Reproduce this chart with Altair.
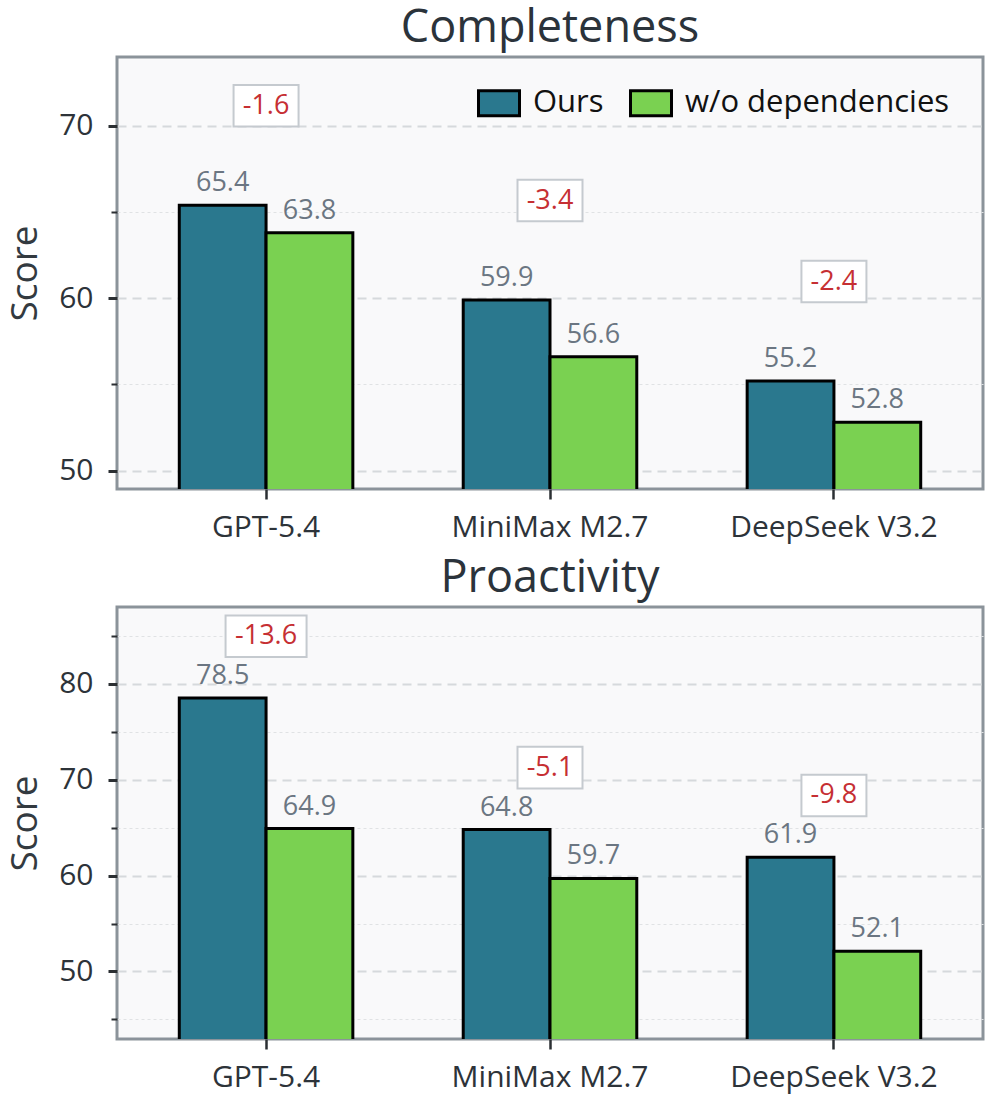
import altair as alt
import pandas as pd

models = ["GPT-5.4", "MiniMax M2.7", "DeepSeek V3.2"]
series = ["Ours", "w/o dependencies"]

completeness_ours = [65.4, 59.9, 55.2]
completeness_wo = [63.8, 56.6, 52.8]
completeness_delta = [-1.6, -3.4, -2.4]

proactivity_ours = [78.5, 64.8, 61.9]
proactivity_wo = [64.9, 59.7, 52.1]
proactivity_delta = [-13.6, -5.1, -9.8]

major_ticks = [40, 50, 60, 70, 80, 90]
minor_ticks = [45, 55, 65, 75, 85]

colors = ["#2a788e", "#7ad151"]
FONT = "Open Sans"
W, H = 866, 432


def panel(title, ours, wo, delta, domain, box_offset, show_legend):
    bars_df = pd.DataFrame({
        "model": models * 2,
        "series": [series[0]] * len(models) + [series[1]] * len(models),
        "score": list(ours) + list(wo),
    })
    delta_df = pd.DataFrame({"model": models, "ours": ours, "delta": delta})

    x_axis = alt.Axis(
        labelAngle=0, labelFontSize=30, labelFont=FONT, labelColor="#2d3339",
        labelLimit=0, tickSize=10, tickWidth=2.5, tickColor="#2b2f33", domain=False,
        labelPadding=13, grid=False,
    )
    x = alt.X("model:N", sort=models, title=None,
              scale=alt.Scale(paddingInner=0, paddingOuter=0.025), axis=x_axis)

    major_axis = alt.Axis(
        orient="left", values=major_ticks,
        labelFontSize=30, labelFont=FONT, labelColor="#2d3339", labelPadding=15,
        tickColor="#2b2f33", tickSize=9, tickWidth=3,
        grid=True, gridDash=[9, 6], gridWidth=2, gridColor="#d6d9dc",
        domain=False,
        titleFontSize=37, titleFont=FONT, titleFontWeight="normal",
        titleColor="#333a40", titlePadding=14,
    )
    minor_axis = alt.Axis(
        orient="left", values=minor_ticks, labels=False, title=None,
        tickColor="#2b2f33", tickSize=6, tickWidth=2,
        grid=True, gridDash=[3, 3], gridWidth=1, gridColor="#e0e2e4",
        domain=False,
    )
    y_scale = alt.Scale(domain=domain, zero=False, nice=False)

    xoff = alt.XOffset("series:N", sort=series,
                       scale=alt.Scale(paddingOuter=0.636, paddingInner=0))

    if show_legend:
        legend = alt.Legend(
            title=None, orient="none", legendX=360, legendY=24,
            direction="horizontal",
            symbolType="M-1,-0.61H1V0.61H-1Z", symbolSize=1681,
            symbolStrokeColor="black", symbolStrokeWidth=3,
            labelFontSize=31, labelFont=FONT, labelColor="#111111", labelLimit=0,
            labelOffset=12, columnPadding=20, padding=0,
        )
    else:
        legend = None

    bars = alt.Chart(bars_df).mark_bar(stroke="black", strokeWidth=3, clip=True).encode(
        x=x, xOffset=xoff,
        y=alt.Y("score:Q", scale=y_scale, title="Score", axis=major_axis),
        color=alt.Color("series:N", sort=series,
                        scale=alt.Scale(domain=series, range=colors), legend=legend),
    )
    values = alt.Chart(bars_df).mark_text(
        fontSize=27, font=FONT, color="#6b7682", dy=-14, baseline="alphabetic"
    ).encode(
        x=x, xOffset=xoff,
        y=alt.Y("score:Q", scale=y_scale, title=None, axis=minor_axis),
        text=alt.Text("score:Q", format=".1f"),
    )

    base = alt.Chart(delta_df).transform_calculate(
        ypos=f"datum.ours + {box_offset}",
        label="(datum.delta < 0 ? '-' : '+') + format(abs(datum.delta), '.1f')",
    ).transform_calculate(
        bw="65 + 16 * (length(datum.label) - 4)",
    ).transform_calculate(
        shp="'M-1,-' + format(41.6 / datum.bw, '.4f') + 'H1V' + format(41.6 / datum.bw, '.4f') + 'H-1Z'",
        sz="datum.bw * datum.bw",
    )
    boxes = base.mark_point(
        filled=True, fill="white", stroke="#c5cacf", strokeWidth=2, opacity=1
    ).encode(
        x=x, y=alt.Y("ypos:Q", scale=y_scale, title=None, axis=None),
        shape=alt.Shape("shp:N", scale=None),
        size=alt.Size("sz:Q", scale=None),
    )
    deltas = base.mark_text(
        fontSize=27, font=FONT, color="#c62f33", baseline="middle"
    ).encode(
        x=x, y=alt.Y("ypos:Q", scale=y_scale, title=None, axis=None),
        text="label:N",
    )

    return alt.layer(bars, values, boxes, deltas).resolve_axis(y="independent").properties(
        width=W, height=H,
        title=alt.TitleParams(title, fontSize=45, font=FONT, fontWeight="normal",
                              color="#2b333b", anchor="middle", offset=6),
    )


top = panel("Completeness", completeness_ours, completeness_wo, completeness_delta,
            [48.93, 74.0], 5.77, True)
bottom = panel("Proactivity", proactivity_ours, proactivity_wo, proactivity_delta,
               [42.96, 88.0], 6.45, False)

chart = alt.vconcat(top, bottom, spacing=10).resolve_scale(
    x="independent", y="independent", color="shared"
).resolve_legend(color="independent").configure_view(
    stroke="#8b939a", strokeWidth=3, fill="#f9f9fa"
).properties(
    padding={"left": 5, "top": 4, "right": 10, "bottom": 1},
    background="white",
)

chart.save("out.html", embed_options={"renderer": "svg", "actions": False})
